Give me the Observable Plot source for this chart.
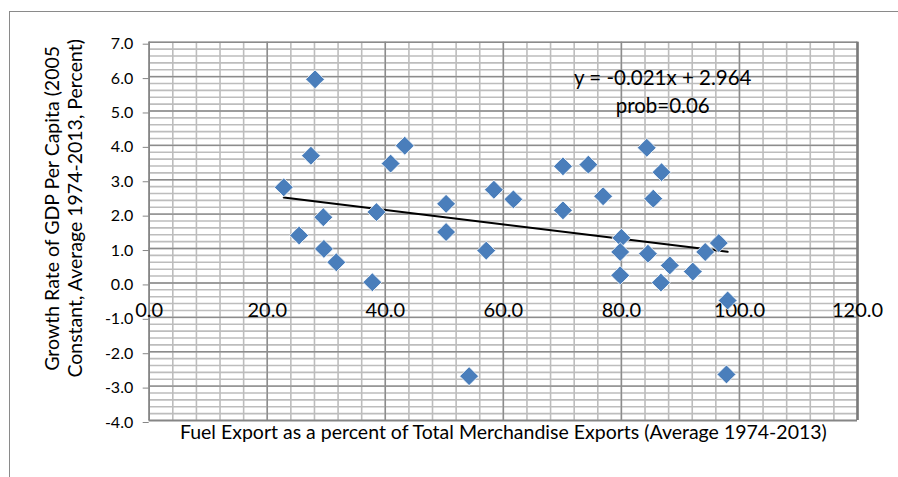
<!DOCTYPE html>
<html>
<head>
<meta charset="utf-8">
<script src="https://cdn.jsdelivr.net/npm/d3@7"></script>
<script src="https://cdn.jsdelivr.net/npm/@observablehq/plot@0.6"></script>
<style>
  html, body { margin: 0; padding: 0; background: #fff; overflow: hidden; }
  #wrap { position: relative; width: 898px; height: 477px; overflow: hidden; }
  #frame { position: absolute; left: 9px; top: 11px; width: 1000px; height: 1000px;
           border: 1.5px solid #8a8a8a; box-sizing: border-box; }
  #chart { position: absolute; left: 0; top: 0; }
</style>
</head>
<body>
<div id="wrap"><div id="frame"></div><div id="chart"></div></div>
<script>
// Fuel export share (% of merchandise exports) per country
const fuelShare = [22.8, 25.4, 28.1, 27.4, 29.5, 29.6, 31.7, 37.8, 38.5, 40.9, 43.3,
  50.3, 50.3, 54.2, 57.1, 58.4, 61.7, 70.1, 70.1, 74.4, 76.9, 80.0, 79.8, 79.8,
  84.3, 84.5, 85.4, 86.7, 86.8, 88.2, 92.1, 94.2, 96.5, 98.0, 97.8];
// Average GDP per capita growth, 1974-2013 (percent)
const gdpGrowth = [2.78, 1.38, 5.92, 3.70, 1.91, 0.99, 0.60, 0.02, 2.06, 3.47, 3.99,
  2.30, 1.48, -2.71, 0.94, 2.71, 2.43, 3.39, 2.11, 3.44, 2.52, 1.31, 0.90, 0.22,
  3.93, 0.85, 2.45, 0.01, 3.22, 0.51, 0.33, 0.90, 1.16, -0.51, -2.66];
// Fitted linear trend
const trendSlope = -0.021;
const trendIntercept = 2.964;
const trendProb = 0.06;
// Axis ticks
const xTicks = [0, 20, 40, 60, 80, 100, 120];
const yTicks = [7, 6, 5, 4, 3, 2, 1, 0, -1, -2, -3, -4];
const xMinor = d3.range(0, 120.01, 4);
const yMinor = d3.range(-4, 7.001, 0.2).map(v => Math.round(v * 10) / 10);

const points = fuelShare.map((x, i) => ({x, y: gdpGrowth[i]}));
const x0 = d3.min(fuelShare), x1 = d3.max(fuelShare);
const trend = [x0, x1].map(x => ({x, y: trendSlope * x + trendIntercept}));
const fmt = v => v.toFixed(1);
const font = "Lato, 'Open Sans', sans-serif";

const chart = Plot.plot({
  width: 898,
  height: 477,
  marginLeft: 148.7,
  marginRight: 41,
  marginTop: 41.7,
  marginBottom: 57,
  style: {fontFamily: font, color: "#000", background: "transparent", overflow: "visible"},
  x: {domain: [0, 120], axis: null},
  y: {domain: [-4, 7], axis: null},
  marks: [
    // minor grid
    Plot.ruleX(xMinor, {stroke: "#bdbdbd", strokeWidth: 1.6}),
    Plot.ruleY(yMinor, {stroke: "#bdbdbd", strokeWidth: 1.6}),
    // major grid
    Plot.ruleX(xTicks, {stroke: "#8c8c8c", strokeWidth: 1.4}),
    Plot.ruleY(yTicks, {stroke: "#8c8c8c", strokeWidth: 1.4}),
    // plot border
    Plot.ruleX([0], {stroke: "#868686", strokeWidth: 1.5}),
    Plot.ruleY([-4], {stroke: "#868686", strokeWidth: 1.5}),
    Plot.ruleX([120], {stroke: "#7a7a7a", strokeWidth: 2.5}),
    // y axis ticks and labels
    Plot.axisY(yTicks, {tickSize: 6, tickPadding: 10, tickFormat: fmt, fontSize: 16,
      stroke: "#868686", fill: "#000", label: null, dy: 2}),
    // x tick labels sit just below the zero line
    Plot.text(xTicks, {x: d => d, y: () => 0, text: fmt, dy: 28, fontSize: 20, fill: "#000"}),
    // data
    Plot.line(trend, {x: "x", y: "y", stroke: "#000", strokeWidth: 2}),
    Plot.dot(points, {x: "x", y: "y", symbol: "diamond2", r: 8.5,
      fill: "#4a7ebb", stroke: "#ffffff", strokeWidth: 0.8}),
    // regression annotation
    Plot.text([`y = ${trendSlope.toFixed(3)}x + ${trendIntercept.toFixed(3)}`],
      {x: () => 87, y: () => 5.95, fontSize: 20.5, fill: "#000"}),
    Plot.text([`prob=${trendProb.toFixed(2)}`],
      {x: () => 87, y: () => 5.13, fontSize: 20.5, fill: "#000"}),
    // axis titles
    Plot.text(["Fuel Export as a percent of Total Merchandise Exports (Average 1974-2013)"],
      {frameAnchor: "bottom", dy: 18.5, fontSize: 19.5, fill: "#000"}),
    Plot.text(["Growth Rate of GDP Per Capita (2005"],
      {frameAnchor: "left", textAnchor: "middle", rotate: -90, dx: -96, dy: -23,
       fontSize: 19.5, fill: "#000"}),
    Plot.text(["Constant, Average 1974-2013, Percent)"],
      {frameAnchor: "left", textAnchor: "middle", rotate: -90, dx: -73, dy: -23,
       fontSize: 19.5, fill: "#000"})
  ]
});
document.getElementById("chart").append(chart);
</script>
</body>
</html>
